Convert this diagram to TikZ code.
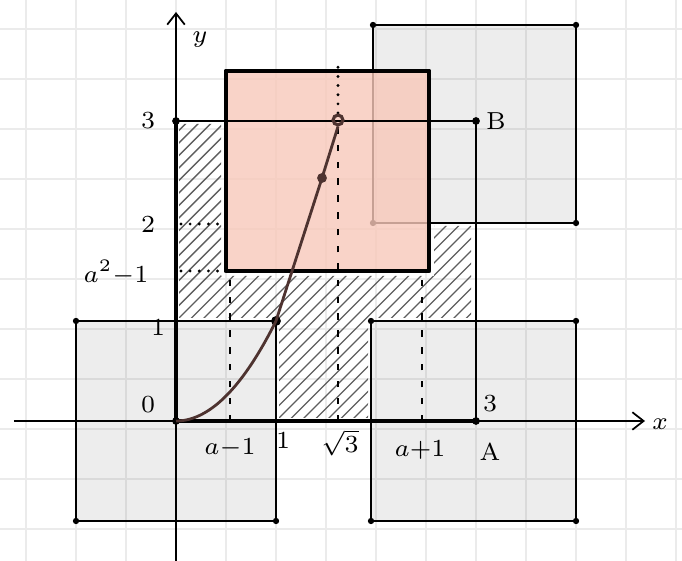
\documentclass[tikz,border=0pt]{standalone}
\usepackage{amsmath, amssymb}
\usepackage{xcolor}
\usetikzlibrary{arrows.meta}
\definecolor{grid-grey}{HTML}{EBEBEB}
\definecolor{square-red}{HTML}{F8C8BA}
\definecolor{curve-brown}{HTML}{4E3330}
\definecolor{hatch-grey}{HTML}{5E5E5E}

\begin{document}
\begin{tikzpicture}[every node/.style={font=\scriptsize},
    greysq/.style={draw=black, line width=0.45pt, fill=black, fill opacity=0.07},
    redsq/.style={draw=black, line width=1.4pt, line join=round, fill=square-red, fill opacity=0.8},
    guide/.style={line width=0.6pt, dash pattern=on 1.8pt off 3pt},
    dots/.style={line width=0.9pt, line cap=round, dash pattern=on 0pt off 2.6pt},
    hatch/.style={draw=hatch-grey, line width=0.4pt},
    axis/.style={line width=0.5pt, -{Straight Barb[length=3.2pt, width=5pt]}}]
    \useasboundingbox (-1.76,-1.40) rectangle (5.06,4.21);
    \foreach \k in {0,...,13}
      \draw[grid-grey, line width=0.4pt] (-1.5+\k*0.5,-1.40) -- (-1.5+\k*0.5,4.21);
    \foreach \k in {0,...,10}
      \draw[grid-grey, line width=0.4pt] (-1.76,-1.08+\k*0.5) -- (5.06,-1.08+\k*0.5);

    \draw[greysq] (-1,-1) rectangle (1,1);
    \draw[greysq] (1.95,-1) rectangle (4,1);
    \draw[greysq] (1.97,1.98) rectangle (4,3.96);
    \foreach \p in {(-1,-1),(1,-1),(-1,1),(1,1),(1.95,-1),(4,-1),(1.95,1),(4,1),
      (1.97,1.98),(4,1.98),(1.97,3.96),(4,3.96)}
      \fill \p circle (0.9pt);

    \begin{scope}
      \clip (0.03,1.03) rectangle (0.45,2.97) (0.03,1.03) rectangle (2.95,1.45)
        (2.58,1.03) rectangle (2.95,1.95) (1.03,0.03) rectangle (1.92,1.03);
      \foreach \k in {0,...,50}
        \draw[hatch] (-0.2,{-3.2+\k*0.125}) -- ++(3.6,3.6);
    \end{scope}

    \draw[redsq] (0.5,1.5) rectangle (2.53,3.5);
    \draw[line width=0.8pt] (0,3) -- (3,3) -- (3,0);
    \draw[line width=1.1pt] (0,0) -- (0,3);
    \draw[line width=0.9pt] (0,0) -- (3,0);
    \foreach \p in {(0,0),(0,3),(3,3),(3,0)}
      \fill \p circle (1.1pt);

    \coordinate (xstart) at (-1.62,0);
    \coordinate (xend) at (4.69,0);
    \coordinate (ystart) at (0,-1.40);
    \coordinate (yend) at (0,4.09);
    \draw[axis] (xstart) -- (xend);
    \draw[axis] (ystart) -- (yend);

    \draw[guide] (0.54,0) -- (0.54,1.5);
    \draw[guide] (2.46,0) -- (2.46,1.5);
    \draw[guide] (1.62,0) -- (1.62,3);
    \draw[dots] (1.62,3.08) -- (1.62,3.6);
    \draw[dots] (0.05,1.5) -- (0.5,1.5);
    \draw[dots] (0.05,1.97) -- (0.45,1.97);

    \node[circle, fill=black, inner sep=0pt, minimum size=2.8pt] (p1) at (1,1) {};
    \node[circle, fill=curve-brown, inner sep=0pt, minimum size=2.8pt] (p2) at (1.46,2.43) {};
    \node[circle, draw=curve-brown, line width=0.9pt, inner sep=0pt, minimum size=2.8pt] (p3) at (1.62,3.01) {};
    \draw[curve-brown, line width=0.8pt, line join=round]
      plot[domain=0:1, samples=40] (\x,{\x*\x}) -- (p2.center) -- (p3.south);

    \node (ylab) at (0.24,3.81) {$y$};
    \node (xlab) at (4.84,-0.03) {$x$};
    \node (ythree) at (-0.28,3.0) {3};
    \node (ytwo) at (-0.28,1.97) {2};
    \node (ya) at (-0.6,1.48) {$a^2{-}1$};
    \node (yone) at (-0.18,0.94) {1};
    \node (zero) at (-0.28,0.16) {0};
    \node (xa) at (0.54,-0.27) {$a{-}1$};
    \node (xone) at (1.07,-0.19) {1};
    \node (xroot) at (1.64,-0.22) {$\sqrt{3}$};
    \node (xb) at (2.44,-0.29) {$a{+}1$};
    \node (xthree) at (3.14,0.17) {3};
    \node (A) at (3.14,-0.31) {A};
    \node (B) at (3.2,3.0) {B};
  \end{tikzpicture}
\end{document}
